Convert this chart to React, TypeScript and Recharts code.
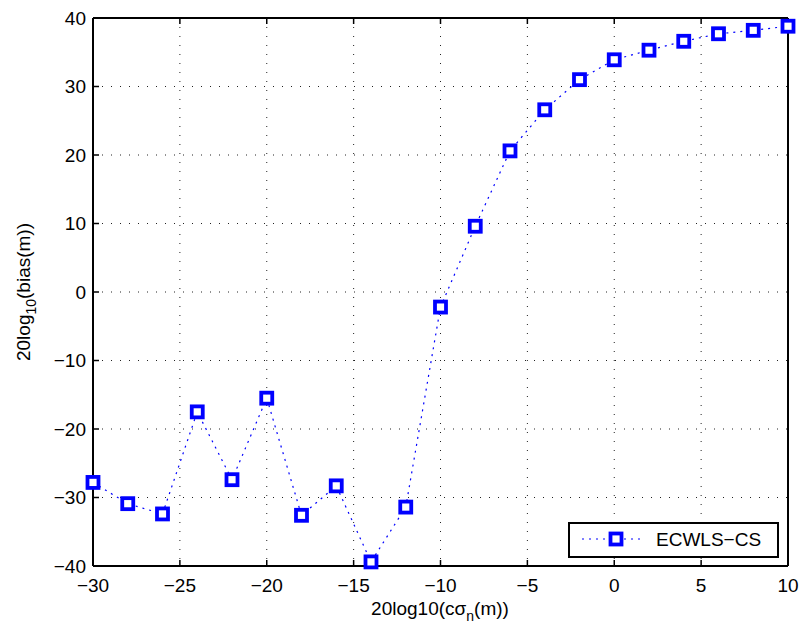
import React from "react";
import {
  LineChart, Line, XAxis, YAxis, CartesianGrid, Legend,
} from "recharts";

const snrDb = [-30, -28, -26, -24, -22, -20, -18, -16, -14, -12, -10, -8, -6, -4, -2, 0, 2, 4, 6, 8, 10];
const biasDb = [-27.8, -30.9, -32.4, -17.5, -27.4, -15.5, -32.6, -28.3, -39.4, -31.4, -2.2, 9.6, 20.6, 26.6, 31, 33.9, 35.3, 36.6, 37.7, 38.2, 38.8];
const xTicks = [-30, -25, -20, -15, -10, -5, 0, 5, 10];
const yTicks = [-40, -30, -20, -10, 0, 10, 20, 30, 40];

const data = snrDb.map((x, i) => ({ x, y: biasDb[i] }));

const font = "Arial, 'Liberation Sans', Helvetica, sans-serif";
const tickStyle = { fill: "#000", fontSize: 19, fontFamily: font };
const fmt = (v: number) => String(v).replace("-", "\u2212");
const BLUE = "#0000ff";

function SquareDot(props: any) {
  const { cx, cy } = props;
  if (cx == null || cy == null) return null;
  return (
    <rect x={cx - 5.5} y={cy - 5.5} width={11} height={11}
      fill="#fff" stroke={BLUE} strokeWidth={3.8} />
  );
}

function LegendBox() {
  return (
    <svg width={212} height={36} style={{ display: "block" }}>
      <rect x={1} y={1} width={209} height={34} fill="#fff" stroke="#000" strokeWidth={2} />
      <line x1={14} y1={17} x2={74} y2={17} stroke={BLUE} strokeWidth={1.2} strokeDasharray="2 5" />
      <rect x={48 - 5.5} y={17 - 5.5} width={11} height={11} fill="#fff" stroke={BLUE} strokeWidth={3.8} />
      <text x={88} y={24} fontFamily={font} fontSize={19} fill="#000">ECWLS&#8722;CS</text>
    </svg>
  );
}

export default function App() {
  return (
    <div style={{ position: "fixed", left: 0, top: 0, width: 803, height: 631, background: "#fff" }}>
      <LineChart width={803} height={631} data={data}
        margin={{ top: 0, right: 0, left: 0, bottom: 0 }}>
        <CartesianGrid stroke="#222" strokeDasharray="1 8" strokeWidth={1} />
        <XAxis dataKey="x" type="number" domain={[-30, 10]} ticks={xTicks}
          height={65} tickSize={-6} tickMargin={19} tick={tickStyle} tickFormatter={fmt}
          axisLine={{ stroke: "#000", strokeWidth: 2 }} tickLine={{ stroke: "#000", strokeWidth: 1.5 }}
          label={{
            content: () => (
              <text x={440} y={615} textAnchor="middle" fontFamily={font} fontSize={19} fill="#000">
                20log10(cσ<tspan fontSize={14} dy={6}>n</tspan><tspan dy={-6}>(m))</tspan>
              </text>
            ),
          }} />
        <XAxis xAxisId="top" orientation="top" dataKey="x" type="number" domain={[-30, 10]} ticks={xTicks}
          height={18} tickSize={-6} tick={() => <g />}
          axisLine={{ stroke: "#000", strokeWidth: 2 }} tickLine={{ stroke: "#000", strokeWidth: 1.5 }} />
        <YAxis type="number" domain={[-40, 40]} ticks={yTicks} width={93}
          tickSize={-6} tickMargin={13} tick={tickStyle} tickFormatter={fmt}
          axisLine={{ stroke: "#000", strokeWidth: 2 }} tickLine={{ stroke: "#000", strokeWidth: 1.5 }}
          label={{
            content: () => (
              <text x={30} y={292} transform="rotate(-90 30 292)" textAnchor="middle"
                fontFamily={font} fontSize={19} fill="#000">
                20log<tspan fontSize={14} dy={6}>10</tspan><tspan dy={-6}>(bias(m))</tspan>
              </text>
            ),
          }} />
        <YAxis yAxisId="right" orientation="right" type="number" domain={[-40, 40]} ticks={yTicks}
          width={15} tickSize={-6} tick={() => <g />}
          axisLine={{ stroke: "#000", strokeWidth: 2 }} tickLine={{ stroke: "#000", strokeWidth: 1.5 }} />
        <Legend content={() => <LegendBox />} layout="vertical" align="center" verticalAlign="middle"
          wrapperStyle={{ position: "absolute", left: 568, top: 522, width: 212, height: 36 }} />
        <Line dataKey="y" type="linear" stroke={BLUE} strokeWidth={1.2} strokeDasharray="2 5"
          dot={<SquareDot />} activeDot={false} isAnimationActive={false} />
      </LineChart>
    </div>
  );
}
